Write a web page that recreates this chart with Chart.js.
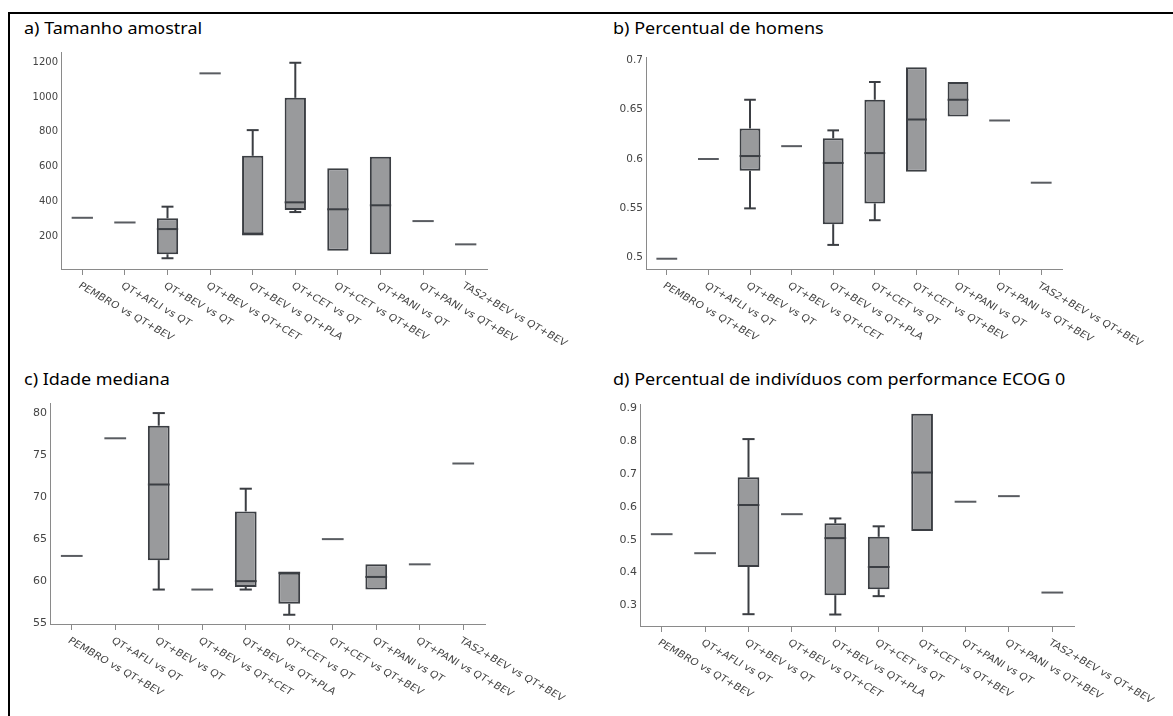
<!DOCTYPE html>
<html>
<head>
<meta charset="utf-8">
<script src="https://cdn.jsdelivr.net/npm/chart.js"></script>
<style>
body { margin: 0; background: #fff; width: 1173px; height: 716px; overflow: hidden; position: relative; font-family: "Noto Sans", sans-serif; }
#frame { position: absolute; left: 8px; top: 12px; right: -4px; bottom: -4px; border-top: 2px solid #000; border-left: 2px solid #000; }
.title { position: absolute; font-size: 15.5px; line-height: 15.5px; color: #000; white-space: nowrap; transform: scaleX(1.16); transform-origin: 0 0; }
canvas { position: absolute; }
</style>
</head>
<body>
<div id="frame"></div>
<div class="title" style="left:24px;top:20.5px">a) Tamanho amostral</div>
<div class="title" style="left:613px;top:20.5px">b) Percentual de homens</div>
<div class="title" style="left:24px;top:371.5px">c) Idade mediana</div>
<div class="title" style="left:613px;top:371.5px">d) Percentual de indivíduos com performance ECOG 0</div>
<canvas id="chartA" width="585" height="319" style="left:0px;top:36px"></canvas>
<canvas id="chartB" width="588" height="319" style="left:585px;top:36px"></canvas>
<canvas id="chartC" width="585" height="324" style="left:0px;top:392px"></canvas>
<canvas id="chartD" width="588" height="324" style="left:585px;top:392px"></canvas>
<script>
const categories = [
    'PEMBRO vs QT+BEV', 'QT+AFLI vs QT', 'QT+BEV vs QT', 'QT+BEV vs QT+CET', 'QT+BEV vs QT+PLA',
    'QT+CET vs QT', 'QT+CET vs QT+BEV', 'QT+PANI vs QT', 'QT+PANI vs QT+BEV', 'TAS2+BEV vs QT+BEV'
];

// a) Tamanho amostral
const amostraMin    = [305, 278, 72, 1137, 210, 338, 115, 95, 286, 152];
const amostraQ1     = [305, 278, 95, 1137, 210, 350, 115, 95, 286, 152];
const amostraMedian = [305, 278, 240, 1137, 210, 394, 354, 377, 286, 152];
const amostraQ3     = [305, 278, 302, 1137, 662, 996, 590, 657, 286, 152];
const amostraMax    = [305, 278, 369, 1137, 810, 1198, 590, 657, 286, 152];
const amostraTicks  = [200, 400, 600, 800, 1000, 1200];

// b) Percentual de homens
const homensMin    = [0.499, 0.600, 0.550, 0.613, 0.513, 0.538, 0.587, 0.643, 0.639, 0.576];
const homensQ1     = [0.499, 0.600, 0.588, 0.613, 0.534, 0.555, 0.587, 0.643, 0.639, 0.576];
const homensMedian = [0.499, 0.600, 0.603, 0.613, 0.596, 0.606, 0.640, 0.660, 0.639, 0.576];
const homensQ3     = [0.499, 0.600, 0.631, 0.613, 0.621, 0.660, 0.693, 0.678, 0.639, 0.576];
const homensMax    = [0.499, 0.600, 0.660, 0.613, 0.629, 0.678, 0.693, 0.678, 0.639, 0.576];
const homensTicks  = [0.5, 0.55, 0.6, 0.65, 0.7];

// c) Idade mediana
const idadeMin    = [63, 77, 59, 59, 59, 56, 65, 59, 62, 74];
const idadeQ1     = [63, 77, 62.5, 59, 59.3, 57.3, 65, 59, 62, 74];
const idadeMedian = [63, 77, 71.5, 59, 60, 61, 65, 60.5, 62, 74];
const idadeQ3     = [63, 77, 78.5, 59, 68.3, 61, 65, 62, 62, 74];
const idadeMax    = [63, 77, 80, 59, 71, 61, 65, 62, 62, 74];
const idadeTicks  = [55, 60, 65, 70, 75, 80];

// d) Percentual de indivíduos com performance ECOG 0
const ecogMin    = [0.517, 0.459, 0.273, 0.578, 0.272, 0.328, 0.527, 0.616, 0.633, 0.339];
const ecogQ1     = [0.517, 0.459, 0.417, 0.578, 0.331, 0.349, 0.527, 0.616, 0.633, 0.339];
const ecogMedian = [0.517, 0.459, 0.606, 0.578, 0.505, 0.417, 0.705, 0.616, 0.633, 0.339];
const ecogQ3     = [0.517, 0.459, 0.691, 0.578, 0.550, 0.509, 0.884, 0.616, 0.633, 0.339];
const ecogMax    = [0.517, 0.459, 0.807, 0.578, 0.565, 0.541, 0.884, 0.616, 0.633, 0.339];
const ecogTicks  = [0.3, 0.4, 0.5, 0.6, 0.7, 0.8, 0.9];

const darkLine = '#3b3e43';

// whiskers, medians and single-value marks
const boxPlugin = {
    id: 'boxStats',
    afterDatasetsDraw(chart, args, opts) {
        const ctx = chart.ctx;
        const x = chart.scales.x, y = chart.scales.y;
        const step = x.width / categories.length;
        const half = step * 0.25, cap = step * 0.14;
        const seg = (x1, y1, x2, y2) => { ctx.beginPath(); ctx.moveTo(x1, y1); ctx.lineTo(x2, y2); ctx.stroke(); };
        ctx.save();
        opts.min.forEach((mn, i) => {
            const cx = x.getPixelForValue(i);
            const mx = opts.max[i];
            if (mn === mx) {
                ctx.strokeStyle = '#595c61';
                ctx.lineWidth = 2;
                const py = y.getPixelForValue(opts.median[i]);
                seg(cx - half, py, cx + half, py);
                return;
            }
            ctx.strokeStyle = darkLine;
            ctx.lineWidth = 2;
            const pq1 = y.getPixelForValue(opts.q1[i]), pq3 = y.getPixelForValue(opts.q3[i]);
            if (mx > opts.q3[i]) {
                const pm = y.getPixelForValue(mx);
                seg(cx, pq3, cx, pm);
                seg(cx - cap, pm, cx + cap, pm);
            }
            if (mn < opts.q1[i]) {
                const pm = y.getPixelForValue(mn);
                seg(cx, pq1, cx, pm);
                seg(cx - cap, pm, cx + cap, pm);
            }
            const pmed = y.getPixelForValue(opts.median[i]);
            seg(cx - half, pmed, cx + half, pmed);
        });
        ctx.restore();
    }
};

// slanted category labels running down to the right (picture is a bit wider than tall)
const stretch = 1.15;
const slantPlugin = {
    id: 'slantLabels',
    afterDraw(chart) {
        const ctx = chart.ctx;
        const x = chart.scales.x;
        ctx.save();
        ctx.font = '9.5px "DejaVu Sans"';
        ctx.fillStyle = '#444';
        ctx.textAlign = 'left';
        ctx.textBaseline = 'middle';
        categories.forEach((c, i) => {
            ctx.save();
            ctx.translate(x.getPixelForValue(i) - 3, chart.chartArea.bottom + 16);
            ctx.scale(stretch, 1);
            ctx.rotate(Math.atan(stretch * Math.tan(Math.PI / 6)));
            ctx.fillText(c, 0, 0);
            ctx.restore();
        });
        ctx.restore();
    }
};

function makeChart(id, stats, ticks, range, box) {
    const boxes = stats.q1.map((q, i) => q === stats.q3[i] ? null : [q, stats.q3[i]]);
    return new Chart(document.getElementById(id), {
        type: 'bar',
        data: {
            labels: categories,
            datasets: [{
                data: boxes,
                backgroundColor: '#999a9c',
                borderColor: darkLine,
                borderWidth: 2,
                borderSkipped: false,
                barPercentage: 0.5,
                categoryPercentage: 1
            }]
        },
        options: {
            responsive: false,
            animation: false,
            layout: { padding: { left: 0, top: box.top, right: box.right, bottom: 0 } },
            plugins: {
                legend: { display: false },
                tooltip: { enabled: false },
                boxStats: stats
            },
            scales: {
                x: {
                    offset: true,
                    grid: { display: true, drawOnChartArea: false, offset: false, color: '#8a8a8a', tickLength: 6 },
                    border: { color: '#8a8a8a', width: 1 },
                    ticks: { display: false },
                    afterFit: s => { s.height = box.bottom; }
                },
                y: {
                    min: range[0],
                    max: range[1],
                    grid: { display: false, drawTicks: false },
                    border: { color: '#8a8a8a', width: 1 },
                    ticks: {
                        color: '#444',
                        padding: 3,
                        font: { family: 'DejaVu Sans', size: box.font },
                        callback: v => String(v)
                    },
                    afterBuildTicks: s => { s.ticks = ticks.map(v => ({ value: v })); },
                    afterFit: s => { s.width = box.left; }
                }
            }
        },
        plugins: [boxPlugin, slantPlugin]
    });
}

makeChart('chartA',
    { min: amostraMin, q1: amostraQ1, median: amostraMedian, q3: amostraQ3, max: amostraMax },
    amostraTicks, [10, 1260], { left: 61, top: 16, right: 98, bottom: 86, font: 10 });
makeChart('chartB',
    { min: homensMin, q1: homensQ1, median: homensMedian, q3: homensQ3, max: homensMax },
    homensTicks, [0.4886, 0.7033], { left: 61, top: 21, right: 111, bottom: 86, font: 10.5 });
makeChart('chartC',
    { min: idadeMin, q1: idadeQ1, median: idadeMedian, q3: idadeQ3, max: idadeMax },
    idadeTicks, [54.9, 81.2], { left: 50, top: 11, right: 100, bottom: 92, font: 11 });
makeChart('chartD',
    { min: ecogMin, q1: ecogQ1, median: ecogMedian, q3: ecogQ3, max: ecogMax },
    ecogTicks, [0.237, 0.914], { left: 55, top: 12, right: 99, bottom: 90, font: 11 });
</script>
</body>
</html>
